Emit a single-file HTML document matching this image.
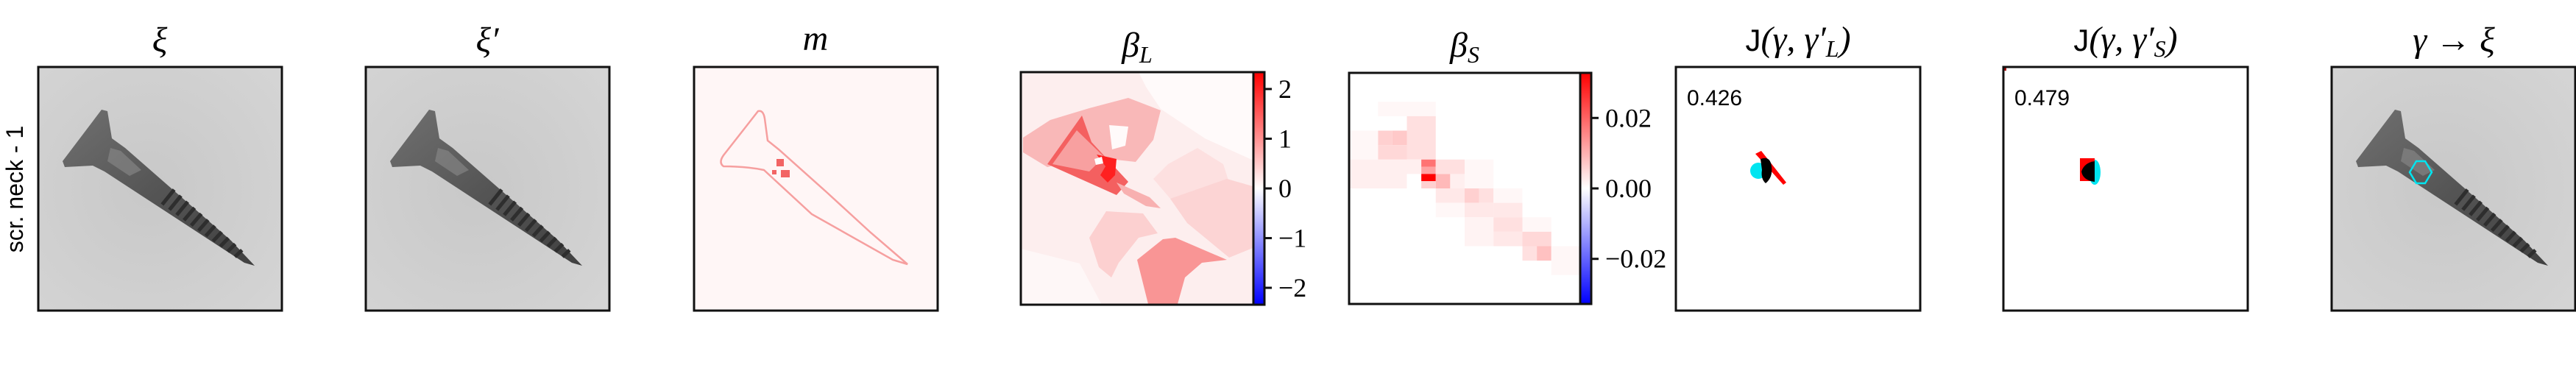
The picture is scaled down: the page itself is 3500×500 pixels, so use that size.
<!DOCTYPE html>
<html><head><meta charset="utf-8"><style>
html,body{margin:0;padding:0;background:#fff;}
svg{display:block;}
.t{font-family:"Liberation Serif",serif;font-style:italic;font-size:48px;fill:#000;}
.u{font-family:"Liberation Sans",sans-serif;font-style:normal;}
.tick{font-family:"Liberation Serif",serif;font-size:36px;fill:#000;}
.ann{font-family:"Liberation Sans",sans-serif;font-size:30px;fill:#000;}
</style></head><body>
<svg id="fig" width="3500" height="500" viewBox="0 0 3500 500" xmlns="http://www.w3.org/2000/svg">
<defs>
  <linearGradient id="bwr" x1="0" y1="0" x2="0" y2="1">
    <stop offset="0" stop-color="#ff0000"/><stop offset="0.5" stop-color="#ffffff"/><stop offset="1" stop-color="#0000ff"/>
  </linearGradient>
  <linearGradient id="metal" x1="0" y1="0" x2="1" y2="1">
    <stop offset="0" stop-color="#707070"/><stop offset="0.5" stop-color="#555555"/><stop offset="1" stop-color="#404040"/>
  </linearGradient>
  <radialGradient id="bgshade" cx="0.45" cy="0.5" r="0.7">
    <stop offset="0" stop-color="#c8c8c8"/><stop offset="1" stop-color="#d4d4d4"/>
  </radialGradient>
  <g id="screw">
    <rect x="0" y="0" width="331" height="331" fill="url(#bgshade)"/>
    <polygon points="86,58 94,60 100,97 118,110 262,236 294,270 280,266 90,142 74,134 36,136 33,128" fill="url(#metal)"/>
    <polygon points="98,110 112,114 140,140 124,148 94,128" fill="#8a8a8a" opacity="0.6"/>
    <g id="threads" stroke="#2e2e2e" stroke-width="5"></g>
  </g>
</defs>

<text font-size="32" transform="translate(31,257) rotate(-90)" text-anchor="middle" font-family="Liberation Sans, sans-serif">scr. neck - 1</text>

<g transform="translate(52,91)">
  <use href="#screw"/>
  <rect x="0" y="0" width="331" height="331" fill="none" stroke="#111" stroke-width="3"/>
</g>
<text class="t" x="217" y="70" text-anchor="middle">ξ</text>

<g transform="translate(497,91)">
  <use href="#screw"/>
  <rect x="0" y="0" width="331" height="331" fill="none" stroke="#111" stroke-width="3"/>
</g>
<text class="t" x="662" y="70" text-anchor="middle">ξ′</text>

<g transform="translate(943,91)">
  <rect x="0" y="0" width="331" height="331" fill="#fff6f6"/>
  <g fill="none" stroke="#f48a8a" stroke-width="2.5" opacity="0.8">
    <path d="M87,60 Q94,58 96,70 L100,100 L115,112 L180,170 L240,225 L290,268 L270,262 L160,200 L95,140 Q70,135 40,135 Q33,130 40,120 Z"/>
  </g>
  <g fill="#f04040" opacity="0.8">
    <rect x="112" y="125" width="10" height="10"/><rect x="118" y="140" width="12" height="10"/><rect x="106" y="140" width="6" height="6"/>
  </g>
  <rect x="0" y="0" width="331" height="331" fill="none" stroke="#111" stroke-width="3"/>
</g>
<text class="t" x="1108" y="68" text-anchor="middle">m</text>

<g transform="translate(1387,98)">
  <rect x="0" y="0" width="316" height="316" fill="#fdeeee"/>
  <polygon points="160,0 316,0 316,120 250,90 190,50 170,20" fill="#fffafa"/>
  <polygon points="0,240 80,260 110,316 0,316" fill="#fef7f7"/>
  <polygon points="180,145 200,125 240,103 275,125 283,150 210,180" fill="#fde0e0"/>
  <polygon points="3,89 40,65 93,49 146,35 190,52 180,92 156,122 93,115 36,129 3,109" fill="#f9b8b8"/>
  <polygon points="120,72 146,74 142,100 124,105" fill="#fffafa"/>
  <polygon points="203,172 280,145 315,155 315,239 283,252 226,205" fill="#fcd4d4"/>
  <polygon points="93,225 116,189 166,192 186,219 160,225 133,259 123,279 106,265" fill="#fcd0d0"/>
  <polygon points="158,255 193,227 210,225 280,255 246,259 223,279 213,315 173,315" fill="#f99595"/>
  <polygon points="83,59 36,125 130,167 146,149 96,95" fill="#f46060"/>
  <polygon points="76,79 43,125 93,135 113,115" fill="#f8a0a0"/>
  <polygon points="130,150 175,170 190,185 170,182 140,165" fill="#f8b0b0"/>
  <polygon points="103,112 130,118 128,140 118,150 108,140 115,128" fill="#ff2020"/>
  <polygon points="100,118 110,115 112,124 102,126" fill="#fff"/>
  <rect x="0" y="0" width="316" height="316" fill="none" stroke="#111" stroke-width="3"/>
</g>
<text class="t" x="1545" y="77" text-anchor="middle">β<tspan font-size="32" dy="8">L</tspan></text>
<g id="cbarL"></g>

<g id="panelS" transform="translate(1833,99)">
  <rect x="0" y="0" width="314" height="314" fill="#fff"/>
  <g id="cellsS"></g>
  <rect x="0" y="0" width="314" height="314" fill="none" stroke="#111" stroke-width="3"/>
</g>
<text class="t" x="1990" y="77" text-anchor="middle">β<tspan font-size="32" dy="8">S</tspan></text>
<g id="cbarS"></g>

<g transform="translate(2277,91)">
  <rect x="0" y="0" width="332" height="331" fill="#fff"/>
  <circle cx="112" cy="141" r="11" fill="#00e5f0"/>
  <polygon points="108,118 116,114 150,157 146,160" fill="#ff0000"/>
  <path d="M115,125 Q128,120 130,135 Q132,150 122,158 Q115,152 117,140 Z" fill="#000"/>
  <rect x="0" y="0" width="332" height="331" fill="none" stroke="#111" stroke-width="3"/>
</g>
<text class="ann" x="2292" y="143">0.426</text>
<text class="t" x="2443" y="69" text-anchor="middle"><tspan class="u" font-size="42">J</tspan>(γ, γ′<tspan font-size="32" dy="8">L</tspan><tspan dy="-8">)</tspan></text>

<g transform="translate(2722,91)">
  <rect x="0" y="0" width="332" height="331" fill="#fff"/>
  <ellipse cx="124" cy="143" rx="8" ry="17" fill="#00e5f0"/>
  <rect x="104" y="124" width="20" height="31" fill="#ff0000"/>
  <path d="M124,128 Q110,130 106,142 Q108,154 124,156 Z" fill="#000"/>
  <rect x="1" y="1" width="3" height="4" fill="#a00"/>
  <rect x="0" y="0" width="332" height="331" fill="none" stroke="#111" stroke-width="3"/>
</g>
<text class="ann" x="2737" y="143">0.479</text>
<text class="t" x="2888" y="69" text-anchor="middle"><tspan class="u" font-size="42">J</tspan>(γ, γ′<tspan font-size="32" dy="8">S</tspan><tspan dy="-8">)</tspan></text>

<g transform="translate(3168,91)">
  <use href="#screw"/>
  <polygon points="115,128 127,128 136,143 127,158 115,158 106,143" fill="none" stroke="#00e5f0" stroke-width="2.5"/>
  <rect x="0" y="0" width="331" height="331" fill="none" stroke="#111" stroke-width="3"/>
</g>
<text class="t" x="3334" y="70" text-anchor="middle">γ → ξ</text>
</svg>
<script>
const sCol0 = [4,8,4,6,8,4,0,0,8,10,10,10,10,12,14,12,16,12,12,16,18,16,20,20,16,20,20,24,24,24,26,28,28];
const sCol1 = [11,11,5,7,11,7,3,7,9,11,11,11,11,13,15,15,19,15,15,17,19,19,23,23,19,23,23,27,27,25,27,31,31];
const sRow0 = [4,6,8,8,8,10,8,12,12,12,13,14,15,14,14,12,12,16,18,16,16,18,16,18,20,20,22,20,22,24,24,24,26];
const sRow1 = [5,7,9,9,11,11,11,15,13,12,13,14,15,15,15,13,15,17,19,17,17,19,17,19,23,21,23,21,23,25,25,25,27];
const sVal  = [0.001,0.004,0.006,0.007,0.004,0.005,0.001,0.002,0.002,0.018,0.012,0.033,0.006,0.009,0.002,0.004,0.001,0.003,0.001,0.006,0.004,0.003,0.001,0.003,0.0015,0.004,0.003,0.001,0.005,0.004,0.008,0.001,0.001];
const sVmax = 0.0328;
const lVmax = 2.34;
const lTicks = [2,1,0,-1,-2];
const lTickLabels = ["2","1","0","\u22121","\u22122"];
const sTicks = [0.02,0,-0.02];
const sTickLabels = ["0.02","0.00","\u22120.02"];

const NS = "http://www.w3.org/2000/svg";
function bwr(v, vmax){
  let t = Math.max(-1, Math.min(1, v / vmax));
  let r, g, b;
  if (t >= 0) { r = 255; g = b = Math.round(255 * (1 - t)); }
  else { b = 255; r = g = Math.round(255 * (1 + t)); }
  return `rgb(${r},${g},${b})`;
}
const cell = 314 / 32;
const xS = c => c * cell;
const yS = r => r * cell;
const cg = document.getElementById('cellsS');
for (let i = 0; i < sVal.length; i++) {
  const rc = document.createElementNS(NS, 'rect');
  rc.setAttribute('x', xS(sCol0[i]));
  rc.setAttribute('y', yS(sRow0[i]));
  rc.setAttribute('width', xS(sCol1[i] + 1) - xS(sCol0[i]));
  rc.setAttribute('height', yS(sRow1[i] + 1) - yS(sRow0[i]));
  rc.setAttribute('fill', bwr(sVal[i], sVmax));
  
  
  cg.appendChild(rc);
}
function colorbar(gid, x, top, h, vmax, ticks, labels){
  const g = document.getElementById(gid);
  const bar = document.createElementNS(NS, 'rect');
  bar.setAttribute('x', x); bar.setAttribute('y', top);
  bar.setAttribute('width', 15); bar.setAttribute('height', h);
  bar.setAttribute('fill', 'url(#bwr)'); bar.setAttribute('stroke', '#111'); bar.setAttribute('stroke-width', 3);
  
  
  g.appendChild(bar);
  const yv = v => top + h / 2 - (v / vmax) * (h / 2);
  ticks.forEach((v, i) => {
    const ln = document.createElementNS(NS, 'line');
    ln.setAttribute('x1', x + 15); ln.setAttribute('x2', x + 25);
    ln.setAttribute('y1', yv(v)); ln.setAttribute('y2', yv(v));
    ln.setAttribute('stroke', '#111'); ln.setAttribute('stroke-width', 3);
    
    
    g.appendChild(ln);
    const tx = document.createElementNS(NS, 'text');
    tx.setAttribute('x', x + 34); tx.setAttribute('y', yv(v) + 12);
    tx.setAttribute('class', 'tick');
    tx.textContent = labels[i];
    
    
    g.appendChild(tx);
  });
}
colorbar('cbarL', 1703, 98, 316, lVmax, lTicks, lTickLabels);
colorbar('cbarS', 2147, 99, 314, sVmax, sTicks, sTickLabels);
const th = document.getElementById('threads');
for (let k = 0; k < 11; k++) {
  const t = 0.42 + k * 0.048;
  const cx = 100 + t * (292 - 100), cy = 104 + t * (268 - 104);
  const w = 20 * (1 - t) + 6;
  const ln = document.createElementNS(NS, 'line');
  ln.setAttribute('x1', cx + 4); ln.setAttribute('y1', cy - w * 0.35);
  ln.setAttribute('x2', cx - 0.7 * w); ln.setAttribute('y2', cy + 0.8 * w);
  
  
  th.appendChild(ln);
}
</script>
</body></html>
